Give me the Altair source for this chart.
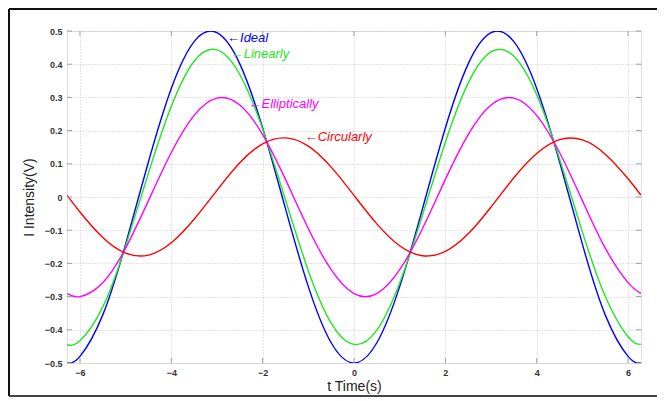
import altair as alt
import pandas as pd

# ---- data ----
t = [-6.28, -6.0, -5.5, -5.0, -4.5, -4.0, -3.5, -3.0, -2.5, -2.0, -1.5, -1.0, -0.5, 0.0,
     0.5, 1.0, 1.5, 2.0, 2.5, 3.0, 3.5, 4.0, 4.5, 5.0, 5.5, 6.0, 6.28]
ideal = [-0.500, -0.480, -0.355, -0.142, 0.106, 0.327, 0.468, 0.495, 0.401, 0.208, -0.035, -0.270, -0.439, -0.500,
         -0.439, -0.270, -0.035, 0.208, 0.401, 0.495, 0.468, 0.327, 0.106, -0.142, -0.355, -0.480, -0.500]
linearly = [-0.445, -0.433, -0.331, -0.148, 0.072, 0.273, 0.409, 0.443, 0.369, 0.205, -0.009, -0.222, -0.380, -0.444,
            -0.401, -0.259, -0.054, 0.165, 0.343, 0.437, 0.424, 0.308, 0.115, -0.105, -0.299, -0.421, -0.444]
elliptically = [-0.291, -0.300, -0.258, -0.154, -0.011, 0.134, 0.246, 0.298, 0.277, 0.188, 0.053, -0.095, -0.219, -0.291,
                -0.291, -0.219, -0.095, 0.053, 0.188, 0.277, 0.298, 0.246, 0.134, -0.011, -0.154, -0.258, -0.290]
circularly = [0.005, -0.045, -0.122, -0.169, -0.175, -0.138, -0.067, 0.020, 0.103, 0.160, 0.178, 0.153, 0.090, 0.005,
              -0.081, -0.147, -0.177, -0.164, -0.111, -0.030, 0.058, 0.131, 0.173, 0.172, 0.129, 0.055, 0.006]

series_names = ["Ideal", "Linearly", "Elliptically", "Circularly"]
series_colors = ["#0000ff", "#22e622", "#ff00ff", "#ff0000"]

label_series = ["Ideal", "Linearly", "Elliptically", "Circularly"]
label_text = ["←Ideal", "←Linearly", "←Elliptically", "←Circularly"]
label_t = [-2.78, -2.70, -2.31, -1.08]
label_v = [0.480, 0.430, 0.279, 0.180]

x_ticks = [-6, -4, -2, 0, 2, 4, 6]
y_ticks = [-0.5, -0.4, -0.3, -0.2, -0.1, 0, 0.1, 0.2, 0.3, 0.4, 0.5]

# ---- build tables ----
rows = []
for name, vals in zip(series_names, [ideal, linearly, elliptically, circularly]):
    for i, (tt, v) in enumerate(zip(t, vals)):
        rows.append({"t": tt, "v": v, "series": name, "order": i})
df = pd.DataFrame(rows)
labels = pd.DataFrame({"series": label_series, "text": label_text, "t": label_t, "v": label_v})
xt = pd.DataFrame({"t": x_ticks})
yt = pd.DataFrame({"v": y_ticks})

W, H = 574, 332
XMIN, XMAX = -6.2832, 6.2832

xscale = alt.Scale(domain=[XMIN, XMAX], nice=False, zero=False)
yscale = alt.Scale(domain=[-0.5, 0.5], nice=False, zero=False)
cscale = alt.Scale(domain=series_names, range=series_colors)

X = alt.X("t:Q", scale=xscale, axis=alt.Axis(values=x_ticks, title="t Time(s)", titlePadding=2))
Y = alt.Y("v:Q", scale=yscale, axis=alt.Axis(
    values=y_ticks, title="I Intensity(V)", titlePadding=8,
    labelExpr="abs(datum.value) < 1e-9 ? '0' : format(datum.value, '.1f')"))

lines = alt.Chart(df).mark_line(interpolate="natural", strokeWidth=1.4, clip=True).encode(
    x=X, y=Y,
    color=alt.Color("series:N", scale=cscale, legend=None),
    detail="series:N",
    order="order:Q",
)

texts = alt.Chart(labels).mark_text(align="left", baseline="middle", fontSize=13, fontStyle="italic",
                                    font="Liberation Sans").encode(
    x=X, y=Y,
    text="text:N",
    color=alt.Color("series:N", scale=cscale, legend=None),
)

tick_color = "#a0a0a0"
xb = alt.Chart(xt).mark_rule(color=tick_color).encode(x=X, y=alt.value(H), y2=alt.value(H - 5))
xtp = alt.Chart(xt).mark_rule(color=tick_color).encode(x=X, y=alt.value(0), y2=alt.value(5))
yl = alt.Chart(yt).mark_rule(color=tick_color).encode(y=Y, x=alt.value(0), x2=alt.value(5))
yr = alt.Chart(yt).mark_rule(color=tick_color).encode(y=Y, x=alt.value(W), x2=alt.value(W - 5))

one = pd.DataFrame({"a": [0]})
frame_top = alt.Chart(one).mark_rule(color="#111", strokeWidth=2).encode(
    x=alt.value(-58), x2=alt.value(W + 40), y=alt.value(-22))
frame_left = alt.Chart(one).mark_rule(color="#111", strokeWidth=2).encode(
    x=alt.value(-58), y=alt.value(-22), y2=alt.value(H + 33))
frame_bottom = alt.Chart(one).mark_rule(color="#444", strokeWidth=2).encode(
    x=alt.value(-58), x2=alt.value(W + 40), y=alt.value(H + 33))

chart = alt.layer(lines, xb, xtp, yl, yr, texts, frame_top, frame_left, frame_bottom).properties(
    width=W, height=H,
    autosize=alt.AutoSizeParams(type="none"),
    padding={"left": 59, "top": 23, "right": 16, "bottom": 35},
).configure_view(stroke="#a8a8a8", strokeWidth=1.2).configure(background="white").configure_axis(
    grid=True, gridDash=[1, 2], gridColor="#c8c8c8", ticks=False, domain=False,
    labelFontSize=9, labelFontWeight="bold", labelColor="#333", labelPadding=5,
    labelOverlap=False, titleFontSize=14, titleFontWeight="normal", titleColor="#222",
    labelFont="Liberation Sans", titleFont="Liberation Sans"
)

chart.save("out.html", embed_options={"renderer": "svg", "actions": False})
